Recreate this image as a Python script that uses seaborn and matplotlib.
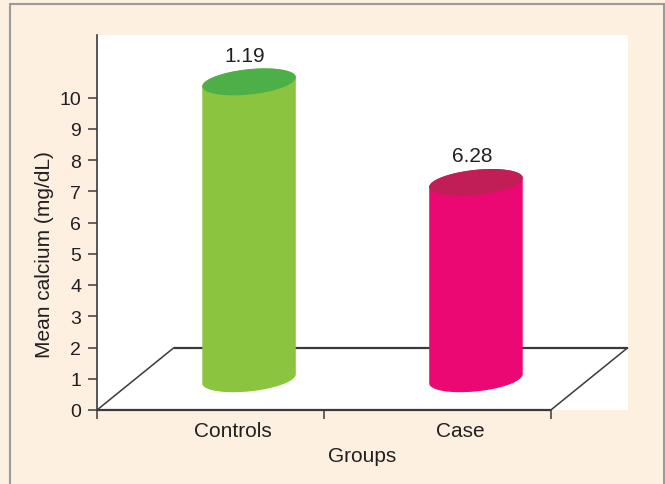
import numpy as np
import matplotlib
matplotlib.use("Agg")
import matplotlib.pyplot as plt
from matplotlib.patches import Polygon, Rectangle
import seaborn as sns

# Mean serum calcium per group
groups = ["Controls", "Case"]
mean_calcium = [9.5, 6.28]
value_labels = ["1.19", "6.28"]
side_colors = ["#8BC53F", "#EC0873"]
top_colors = ["#4CAF48", "#C11D57"]
y_ticks = list(range(0, 11))

sns.set_theme(style="white")
plt.rcParams["font.family"] = ["Liberation Sans", "DejaVu Sans"]

BG = "#FDF0E1"
INK = "#231F20"
LINE = "#3A3A3A"

fig = plt.figure(figsize=(6.65, 4.85), dpi=100, facecolor=BG)
ax = fig.add_axes([97 / 665, 74 / 485, 531 / 665, 375 / 485])
ax.set_facecolor("white")

# depth of the 3-D floor, in data units
DX, DY = 0.34, 2.0
ax.set_xlim(-0.5, 1.5 + DX)
ax.set_ylim(0, 12)

# pixels per data unit, used to size the cylinder ellipses
bbox = ax.get_window_extent()
sx = bbox.width / (ax.get_xlim()[1] - ax.get_xlim()[0])
sy = bbox.height / (ax.get_ylim()[1] - ax.get_ylim()[0])

# floor of the chart
kw = dict(color=LINE, clip_on=False, solid_capstyle="butt")
ax.plot([-0.5, 1.5], [0, 0], lw=1.6, **kw)
ax.plot([-0.5, -0.5 + DX], [0, DY], lw=1.1, **kw)
ax.plot([1.5, 1.5 + DX], [0, DY], lw=1.1, **kw)
ax.plot([-0.5 + DX, 1.5 + DX], [DY, DY], lw=1.6, **kw)

# ellipse cross-section of the cylinders (pixel sizes, tilted)
a_px, b_px, th = 47.0, 12.6, np.deg2rad(6.0)


def ell(t):
    ex = a_px * np.cos(t) * np.cos(th) - b_px * np.sin(t) * np.sin(th)
    ey = a_px * np.cos(t) * np.sin(th) + b_px * np.sin(t) * np.cos(th)
    return ex / sx, ey / sy


t_r = np.arctan2(-b_px * np.sin(th), a_px * np.cos(th))
upper = np.linspace(t_r, t_r + np.pi, 120)
lower = np.linspace(t_r + np.pi, t_r + 2 * np.pi, 120)
full = np.linspace(0, 2 * np.pi, 240)
top_extent = np.sqrt((a_px * np.sin(th)) ** 2 + (b_px * np.cos(th)) ** 2) / sy

for i, (v, lab, sc, tc) in enumerate(zip(mean_calcium, value_labels, side_colors, top_colors)):
    cx = i + DX / 2
    y0 = DY / 2
    y1 = y0 + v
    ux, uy = ell(upper)
    lx, ly = ell(lower)
    body = np.column_stack([np.r_[cx + ux, cx + lx], np.r_[y1 + uy, y0 + ly]])
    ax.add_patch(Polygon(body, closed=True, fc=sc, ec="none", zorder=3))
    fx, fy = ell(full)
    ax.add_patch(Polygon(np.column_stack([cx + fx, y1 + fy]), closed=True,
                         fc=tc, ec="none", zorder=4))
    ax.text(cx - 4 / sx, y1 + top_extent + 0.25, lab, ha="center", va="baseline",
            fontsize=15, color=INK, zorder=5)

# axes, ticks and labels
sns.despine(ax=ax, left=False, bottom=True, top=True, right=True)
ax.spines["left"].set_color(LINE)
ax.spines["left"].set_linewidth(1.2)

ax.set_yticks(y_ticks)
ax.set_yticklabels([str(t) for t in y_ticks])
ax.tick_params(axis="y", left=True, length=6.5, width=1.1, color=LINE,
               pad=5, labelsize=14, labelcolor=INK, direction="out")

ax.set_xticks([-0.5, 0.5, 1.5])
ax.set_xticklabels(["", "", ""])
ax.set_xticks([i + 0.1 for i in range(len(groups))], minor=True)
ax.set_xticklabels(groups, minor=True)
ax.tick_params(axis="x", which="major", bottom=True, length=6.5, width=1.1,
               color=LINE, direction="out")
ax.tick_params(axis="x", which="minor", bottom=True, length=0, pad=8,
               labelsize=15, labelcolor=INK)

ax.set_xlabel("Groups", fontsize=15, color=INK, labelpad=4)
ax.set_ylabel("Mean calcium (mg/dL)", fontsize=15, color=INK)
ax.yaxis.label.set_va("center")
ax.yaxis.set_label_coords(-0.0998, 5 / 12)

# outer frame
fig.add_artist(Rectangle((10 / 665, -0.05), 654 / 665, 480 / 485 + 0.05,
                         transform=fig.transFigure, fill=False,
                         ec="#9B9B9B", lw=1.5))

fig.savefig("out.png", dpi=100, facecolor=BG)
